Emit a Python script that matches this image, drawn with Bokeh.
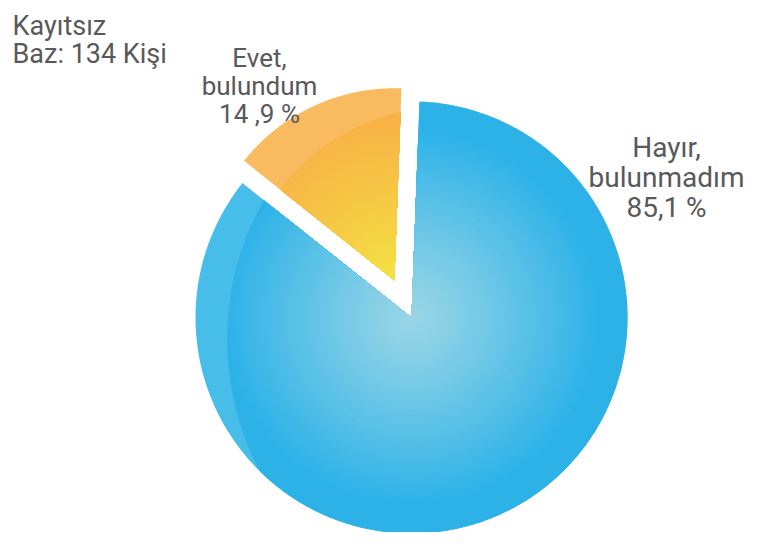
import numpy as np
from bokeh.plotting import figure
from bokeh.models import Range1d
from bokeh.core.properties import value
from bokeh.embed import file_html
from bokeh.resources import INLINE

# ---- data -------------------------------------------------------------
title_lines = ["Kayıtsız", "Baz: 134 Kişi"]
categories = ["Evet, bulundum", "Hayır, bulunmadım"]
shares = [14.9, 85.1]
share_labels = ["14 ,9 %", "85,1 %"]

# ---- layout / style constants ------------------------------------------
W, H = 746, 532
CX, CY = 411.0, 317.0          # pie centre (screen px)
R_BLUE = 216.0
R_ORANGE = 192.0
EXPLODE = 41.0
BISECTOR = np.deg2rad(114.7)   # direction of the exploded slice
FONT = value("Roboto")
TXT = "#58595b"

p = figure(width=W, height=H, x_range=Range1d(0, W), y_range=Range1d(H, 0),
           output_backend="svg", toolbar_location=None, min_border=0,
           x_axis_location=None, y_axis_location=None)
p.grid.visible = False
p.outline_line_color = None
p.background_fill_color = "white"
p.border_fill_color = "white"


def hex2rgb(h):
    h = h.lstrip("#")
    return np.array([int(h[i:i + 2], 16) for i in (0, 2, 4)], float)


def lerp(c0, c1, t):
    a, b = hex2rgb(c0), hex2rgb(c1)
    c = a + (b - a) * t
    return "#%02x%02x%02x" % tuple(int(round(v)) for v in c)


def ray_disc(theta, d, r):
    ud = d[0] * np.cos(theta) + d[1] * np.sin(theta)
    disc = ud ** 2 - (d[0] ** 2 + d[1] ** 2) + r ** 2
    return np.where(disc > 0, ud + np.sqrt(np.clip(disc, 0, None)), 0.0)


def sector(apex, theta, rho):
    xs = [apex[0]] + list(apex[0] + rho * np.cos(theta)) + [apex[0]]
    ys = [apex[1]] + list(apex[1] - rho * np.sin(theta)) + [apex[1]]
    return xs, ys


# angles from data
frac_yes = shares[0] / sum(shares)
half = np.pi * frac_yes
t1, t2 = BISECTOR - half, BISECTOR + half

layers_x, layers_y, layers_c = [], [], []


def add(xy, col):
    layers_x.append(xy[0]); layers_y.append(xy[1]); layers_c.append(col)


N = 45
# ---- blue slice (No) ---------------------------------------------------
thb = np.linspace(t2, t1 + 2 * np.pi, 500)
C = (CX, CY)
add(sector(C, thb, np.full_like(thb, R_BLUE)), "#47bde9")
sb = R_BLUE / 224.0
inner_b = np.minimum(ray_disc(thb, (103.0 * sb, -23.0 * sb), (224.0 + 70.0) * sb), R_BLUE)
add(sector(C, thb, inner_b), "#2db2e8")
SG = 195.0 * sb
for k in range(N):
    s = SG * (1 - k / N)
    t = s / SG
    add(sector(C, thb, np.minimum(s, inner_b)), lerp("#9bd6e6", "#2db2e8", t ** 1.1))

# ---- orange slice (Yes), exploded --------------------------------------
A = (CX + EXPLODE * np.cos(BISECTOR), CY - EXPLODE * np.sin(BISECTOR))
tho = np.linspace(t1, t2, 200)
add(sector(A, tho, np.full_like(tho, R_ORANGE)), "#f9bb5f")
so = R_ORANGE / 202.0
inner_o = np.minimum(ray_disc(tho, (56.0 * so, -39.0 * so), 221.0 * so), R_ORANGE)
add(sector(A, tho, inner_o), "#f8ab45")
SO = R_ORANGE
for k in range(N):
    s = SO * (1 - k / N)
    t = s / SO
    add(sector(A, tho, np.minimum(s, inner_o)), lerp("#f3e444", "#f8ab45", t ** 0.9))

p.patches(xs=layers_x, ys=layers_y, fill_color=layers_c, line_color=None)

# ---- labels ------------------------------------------------------------
label_anchor = [(259, 57, 28.0, "26px"), (666, 147, 30.0, "28px")]
for cat, pct, (ax, ay, step, size) in zip(categories, share_labels, label_anchor):
    head, tail = cat.split(", ")
    lines = [head + ",", tail, pct]
    p.text(x=[ax] * 3, y=[ay + i * step for i in range(3)], text=lines,
           text_align="center", text_baseline="alphabetic",
           text_font=FONT, text_font_size=size, text_color=TXT)

p.text(x=[12, 12], y=[25, 53], text=title_lines, text_align="left",
       text_baseline="alphabetic", text_font=FONT, text_font_size="27px", text_color=TXT)

open("out.html", "w").write(file_html(p, INLINE))
